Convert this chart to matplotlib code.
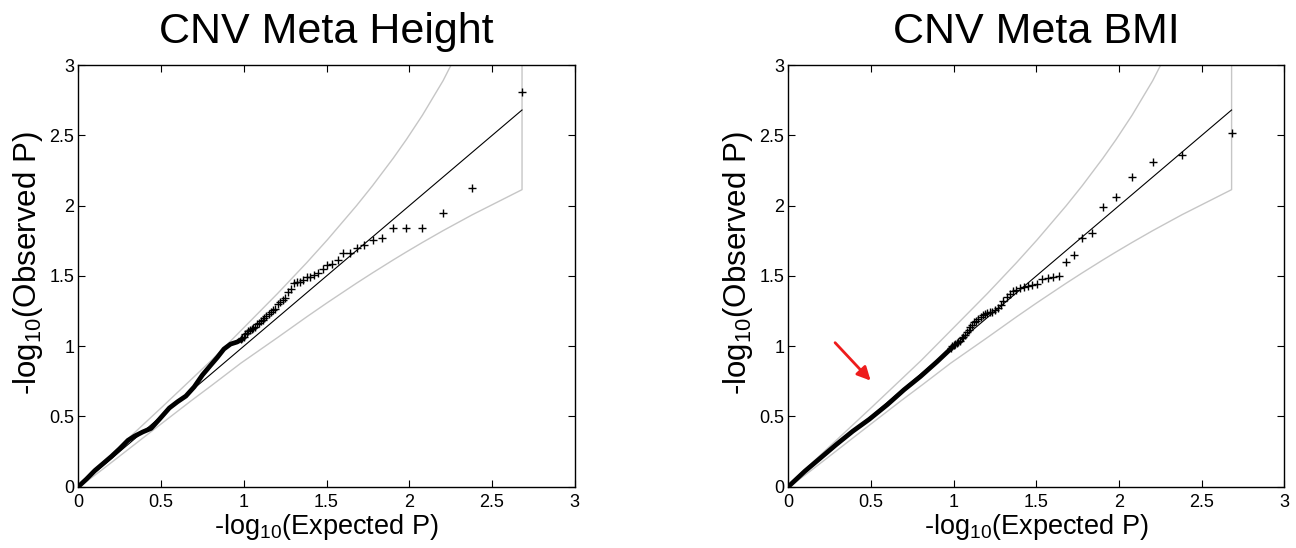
import matplotlib
matplotlib.use('Agg')
import matplotlib.pyplot as plt

plt.rcParams['font.family'] = ['Liberation Sans', 'DejaVu Sans']
plt.rcParams['mathtext.fontset'] = 'custom'
plt.rcParams['mathtext.rm'] = 'Liberation Sans'
plt.rcParams['mathtext.it'] = 'Liberation Sans:italic'

# ---------------- data ----------------
titles = ['CNV Meta Height', 'CNV Meta BMI']
tick_values = [0, 0.5, 1, 1.5, 2, 2.5, 3]
tick_labels = ['0', '0.5', '1', '1.5', '2', '2.5', '3']
xlabel_text = r'-log$_{10}$(Expected P)'
ylabel_text = r'-log$_{10}$(Observed P)'

# 95% confidence band, shared by both panels
band_x = [0.0, 0.0378, 0.0792, 0.1372, 0.2041, 0.2833, 0.3802, 0.5051, 0.6812,
          0.8062, 0.9823, 1.2041, 1.3802, 1.5051, 1.6812, 1.7782, 1.9031,
          1.9823, 2.0792, 2.2041, 2.3802, 2.6812]
band_upper = [0.0033, 0.0513, 0.0985, 0.1624, 0.2362, 0.3231, 0.4289, 0.566,
              0.762, 0.9014, 1.1107, 1.375, 1.5945, 1.7574, 2.0004, 2.1429,
              2.3384, 2.4708, 2.6438, 2.8897, 3.297, 4.278]
band_lower = [0.0, 0.027, 0.0635, 0.115, 0.1759, 0.2484, 0.3372, 0.451, 0.611,
              0.7212, 0.8794, 1.0616, 1.2089, 1.3103, 1.4486, 1.5221, 1.6142,
              1.6708, 1.7383, 1.8224, 1.9352, 2.1143]
diag_x = [0.0, 2.6812]
diag_y = [0.0, 2.6812]

# Height: dense part of the observed curve
height_dense_x = [0.0, 0.05, 0.10, 0.15, 0.20, 0.25, 0.30, 0.34, 0.39, 0.44,
                  0.49, 0.55, 0.60, 0.65, 0.70, 0.75, 0.80, 0.84, 0.88, 0.92,
                  0.96, 0.99]
height_dense_y = [0.0, 0.055, 0.115, 0.165, 0.215, 0.27, 0.33, 0.36, 0.39,
                  0.415, 0.48, 0.56, 0.605, 0.645, 0.71, 0.795, 0.865, 0.92,
                  0.98, 1.015, 1.03, 1.05]
# Height: individual points in the tail
height_pts_x = [2.681, 2.380, 2.204, 2.079, 1.982, 1.903, 1.836, 1.778, 1.727,
                1.681, 1.640, 1.602, 1.568, 1.535, 1.505, 1.477, 1.451, 1.426,
                1.403, 1.380, 1.359, 1.339, 1.320, 1.301, 1.284, 1.267, 1.250,
                1.234, 1.219, 1.204, 1.190, 1.176, 1.163, 1.150, 1.137, 1.125,
                1.113, 1.101, 1.090, 1.079, 1.068, 1.058, 1.048, 1.038, 1.028,
                1.019, 1.010, 1.000, 0.991, 0.982]
height_pts_y = [2.807, 2.124, 1.946, 1.844, 1.839, 1.843, 1.768, 1.756, 1.722,
                1.701, 1.661, 1.661, 1.612, 1.588, 1.575, 1.550, 1.524, 1.507,
                1.490, 1.490, 1.471, 1.459, 1.455, 1.450, 1.405, 1.385, 1.345,
                1.330, 1.318, 1.300, 1.268, 1.255, 1.240, 1.228, 1.215, 1.200,
                1.190, 1.178, 1.165, 1.155, 1.140, 1.132, 1.122, 1.115, 1.105,
                1.095, 1.085, 1.068, 1.058, 1.048]

# BMI: dense part
bmi_dense_x = [0.0, 0.05, 0.10, 0.19, 0.29, 0.39, 0.49, 0.60, 0.70, 0.80,
               0.90, 0.99]
bmi_dense_y = [0.0, 0.055, 0.11, 0.20, 0.30, 0.395, 0.48, 0.585, 0.69, 0.785,
               0.89, 0.99]
# BMI: individual points
bmi_pts_x = height_pts_x
bmi_pts_y = [2.515, 2.361, 2.313, 2.202, 2.060, 1.993, 1.804, 1.768, 1.649,
             1.597, 1.500, 1.492, 1.483, 1.480, 1.440, 1.436, 1.428, 1.419,
             1.412, 1.402, 1.396, 1.370, 1.350, 1.320, 1.290, 1.272, 1.255,
             1.245, 1.240, 1.236, 1.228, 1.220, 1.205, 1.194, 1.182, 1.170,
             1.150, 1.138, 1.115, 1.100, 1.080, 1.068, 1.055, 1.040, 1.032,
             1.020, 1.015, 1.009, 1.000, 0.990]

panels = [
    (titles[0], height_dense_x, height_dense_y, height_pts_x, height_pts_y),
    (titles[1], bmi_dense_x, bmi_dense_y, bmi_pts_x, bmi_pts_y),
]

# ---------------- figure ----------------
W, H = 1296, 548
fig = plt.figure(figsize=(W / 100, H / 100), dpi=100)
ax_rects = [
    [78.3 / W, (H - 486.7) / H, 496.5 / W, 421.5 / H],
    [788.3 / W, (H - 486.7) / H, 496.0 / W, 421.5 / H],
]
band_color = '#c6c6c6'
axes = []
for rect, (title, dx, dy, px, py) in zip(ax_rects, panels):
    ax = fig.add_axes(rect)
    axes.append(ax)
    ax.plot(band_x + band_x[::-1], band_upper + band_lower[::-1],
            color=band_color, lw=1.0, zorder=1)
    ax.plot(diag_x, diag_y, color='black', lw=0.8, zorder=2)
    ax.plot(dx, dy, color='black', lw=3.4, solid_capstyle='round',
            solid_joinstyle='round', zorder=3)
    ax.plot(px, py, linestyle='none', marker='+', color='black',
            markersize=5.5, markeredgewidth=1.0, zorder=4)
    ax.set_xlim(0, 3)
    ax.set_ylim(0, 3)
    ax.set_xticks(tick_values)
    ax.set_xticklabels(tick_labels)
    ax.set_yticks(tick_values)
    ax.set_yticklabels(tick_labels)
    ax.tick_params(direction='in', top=True, right=True, length=5, width=0.8,
                   labelsize=13, colors='black')
    ax.tick_params(axis='x', pad=5)
    ax.tick_params(axis='y', pad=3)
    for s in ax.spines.values():
        s.set_linewidth(1.0)
    ax.set_title(title, fontsize=31, pad=16)
    ax.text(0.5, -0.112, xlabel_text, transform=ax.transAxes,
            ha='center', va='baseline', fontsize=19.5)
    ax.text(-0.0852, 0.53, ylabel_text, transform=ax.transAxes,
            ha='center', va='baseline', rotation=90, fontsize=22.5,
            rotation_mode='anchor')

axes[1].annotate('', xy=(0.498, 0.755), xytext=(0.283, 1.025),
                 arrowprops=dict(arrowstyle='-|>', color='#ee1c1c', lw=2.0,
                                 mutation_scale=20, shrinkA=0, shrinkB=0))

fig.savefig('out.png', dpi=100)
